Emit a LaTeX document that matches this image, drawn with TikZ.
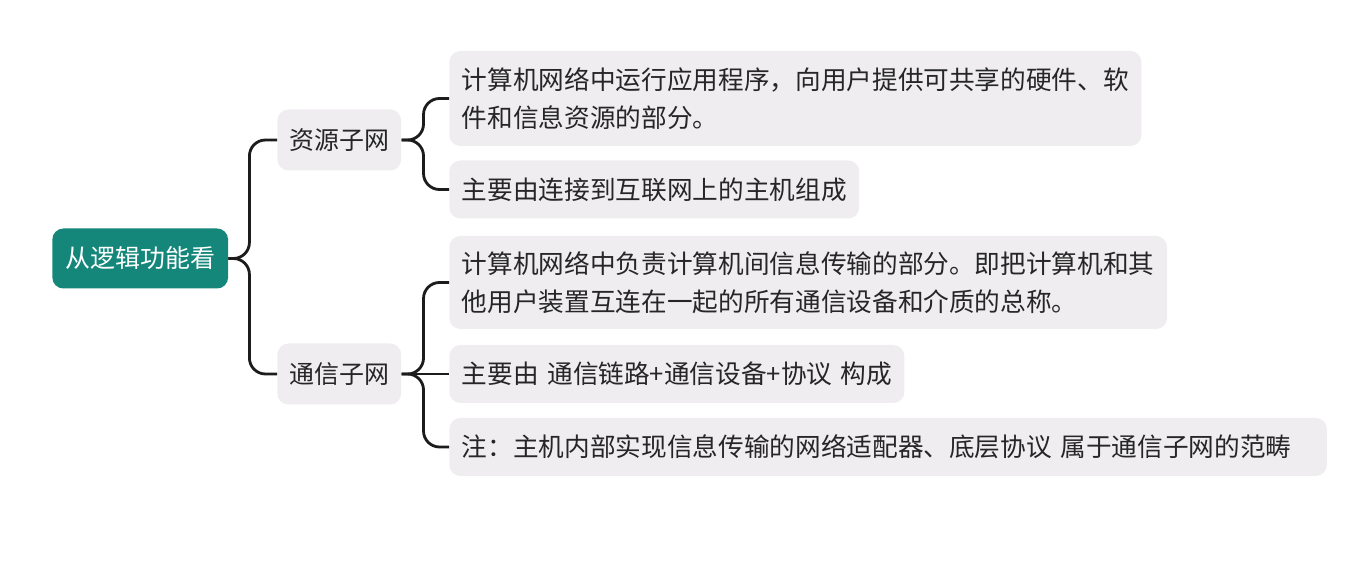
\documentclass[tikz,border=0pt]{standalone}
\usepackage{fontspec}
\newfontfamily\cjk{Noto Sans CJK SC}
\usepackage{tikz}
\usetikzlibrary{calc}
\definecolor{rootteal}{HTML}{14877A}
\definecolor{boxgray}{HTML}{EFEDF0}
\definecolor{linkgray}{HTML}{1C1C1C}
\tikzset{
  rootbox/.style={fill=rootteal, text=white, rounded corners=0.22cm, anchor=west,
    inner xsep=0.26cm, minimum height=1.2cm, font=\cjk\fontsize{14.2}{20}\selectfont},
  subbox/.style={fill=boxgray, text=black!85, rounded corners=0.22cm, anchor=west,
    inner xsep=0.24cm, minimum height=1.22cm, font=\cjk\fontsize{14.2}{20}\selectfont},
  leafbox/.style={fill=boxgray, text=black!85, rounded corners=0.22cm, anchor=west,
    align=left, inner xsep=0.25cm, minimum height=1.16cm, font=\cjk\fontsize{14.6}{21.5}\selectfont},
  link/.style={draw=linkgray, line width=1.6pt, rounded corners=0.32cm}
}
\begin{document}
\begin{tikzpicture}
\useasboundingbox (0,0) rectangle (27.3,-11.38);
%根节点
  \node[rootbox] (root) at (1.04,-5.17) {从逻辑功能看};
%二级节点
  \node[subbox] (res) at (5.54,-2.8) {资源子网};
  \node[subbox] (com) at (5.54,-7.48) {通信子网};
%资源子网
  \node[leafbox, minimum height=1.9cm] (l1) at (8.98,-1.97) {计算机网络中运行应用程序，向用户提供可共享的硬件、软\\件和信息资源的部分。};
  \node[leafbox] (l2) at (8.98,-3.79) {主要由连接到互联网上的主机组成};
%通信子网
  \node[leafbox, minimum height=1.86cm] (l3) at (8.98,-5.65) {计算机网络中负责计算机间信息传输的部分。即把计算机和其\\他用户装置互连在一起的所有通信设备和介质的总称。};
  \node[leafbox, text width=8.6cm] (l4) at (8.98,-7.48) {\mbox{主要由 通信链路+通信设备+协议 构成}};
  \node[leafbox, text width=17.05cm] (l5) at (8.98,-8.94) {\mbox{注：主机内部实现信息传输的网络适配器、底层协议 属于通信子网的范畴}};
%连线
  \draw[link] (root.east) -- ++(0.42,0) |- (res.west);
  \draw[link] (root.east) -- ++(0.42,0) |- (com.west);
  \draw[link] (res.east) -- ++(0.44,0) |- (l1.west);
  \draw[link] (res.east) -- ++(0.44,0) |- (l2.west);
  \draw[link] (com.east) -- ++(0.44,0) |- (l3.west);
  \draw[link] (com.east) -- (l4.west);
  \draw[link] (com.east) -- ++(0.44,0) |- (l5.west);
\end{tikzpicture}
\end{document}
